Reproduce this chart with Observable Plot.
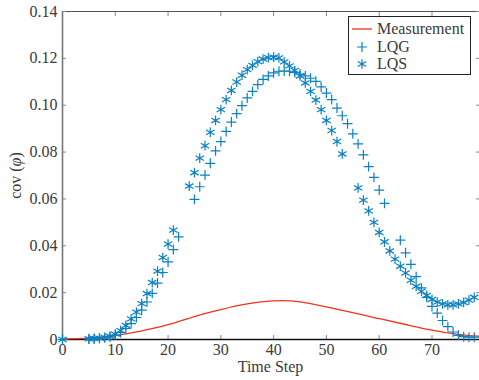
<!DOCTYPE html>
<html><head><meta charset="utf-8">
<script src="https://cdn.jsdelivr.net/npm/d3@7"></script>
<script src="https://cdn.jsdelivr.net/npm/@observablehq/plot@0.6"></script>
<style>
body{margin:0;background:#fff}
svg, svg text, svg tspan { font-family: "Liberation Serif", serif !important; }
</style>
</head><body><div id="chart"></div>
<script>
const measX = [0, 5, 10, 15, 20, 25, 30, 35, 40, 45, 50, 55, 60, 65, 70, 75, 79];
const measY = [0.0003, 0.0006, 0.0017, 0.0037, 0.0063, 0.0098, 0.0128, 0.0152, 0.0165, 0.0161, 0.0139, 0.0115, 0.0089, 0.0064, 0.0040, 0.0022, 0.0014];
const lqgX = [0,5,6,7,8,9,10,11,12,13,14,15,16,17,18,19,20,21,22,
  25,26,27,28,29,30,31,32,33,34,35,36,37,38,39,40,41,42,43,44,45,46,47,48,49,50,51,52,53,54,55,56,57,58,59,60,61,
  64,65,66,67,68,69,70,71,72,73,74,75,76,77,78];
const lqgY = [0,0.0002,0.0003,0.0004,0.0007,0.0011,0.0018,0.003,0.0047,0.0068,0.0094,0.0125,0.016,0.0197,0.0241,0.0286,0.0331,0.0384,0.0438,
  0.0598,0.0652,0.0702,0.0752,0.0805,0.0845,0.0888,0.0928,0.0964,0.0998,0.1031,0.1059,0.1088,0.111,0.1125,0.1138,0.1145,0.1146,0.1145,0.114,0.1133,0.1125,0.1115,0.1102,0.1078,0.1052,0.1024,0.0988,0.0955,0.0921,0.0878,0.0835,0.0788,0.0738,0.0692,0.0638,0.0581,
  0.0424,0.037,0.0321,0.0268,0.022,0.018,0.0141,0.0113,0.0081,0.0055,0.0032,0.0018,0.0012,0.001,0.001];
const lqsX = [0,5,6,7,8,9,10,11,12,13,14,15,16,17,18,19,20,21,
  24,25,26,27,28,29,30,31,32,33,34,35,36,37,38,39,40,41,42,43,44,45,46,47,48,49,50,51,52,53,
  56,57,58,59,60,61,62,63,64,65,66,67,68,69,70,71,72,73,74,75,76,77,78];
const lqsY = [0,0.0003,0.0004,0.0006,0.0009,0.0014,0.0023,0.0038,0.006,0.0088,0.0117,0.0153,0.0196,0.0243,0.0292,0.035,0.0407,0.0467,
  0.0655,0.0712,0.0774,0.0827,0.0884,0.0935,0.0981,0.1024,0.1063,0.1099,0.1128,0.1152,0.117,0.1186,0.1197,0.1203,0.1205,0.1202,0.1185,0.1168,0.1148,0.1125,0.1095,0.1059,0.1022,0.0981,0.0935,0.0892,0.0845,0.0792,
  0.0647,0.0595,0.0549,0.05,0.0457,0.0417,0.0378,0.0343,0.0313,0.0284,0.0253,0.0227,0.0206,0.0188,0.0171,0.016,0.0152,0.0148,0.0148,0.0152,0.0158,0.0168,0.018];
const xTicks = [0, 10, 20, 30, 40, 50, 60, 70];
const yTicks = [0, 0.02, 0.04, 0.06, 0.08, 0.10, 0.12, 0.14];
const seriesNames = ["Measurement", "LQG", "LQS"];

const blue = "#0b80c3", red = "#f2331c";
const meas = measX.map((x, i) => ({x, y: measY[i]}));
const lqg = lqgX.map((x, i) => ({x, y: lqgY[i]}));
const lqs = lqsX.map((x, i) => ({x, y: lqsY[i]}));
const fs = 16;

const plot = Plot.plot({
  width: 479, height: 380,
  marginLeft: 62, marginRight: 0, marginTop: 11, marginBottom: 41,
  style: {fontSize: fs + "px", color: "#3a3a3a", background: "white", overflow: "visible"},
  x: {domain: [0, 79]},
  y: {domain: [0, 0.14]},
  marks: [
    Plot.frame({stroke: "#555", strokeWidth: 1}),
    Plot.axisX({ticks: xTicks, tickSize: -4, tickPadding: 8, label: null, stroke: "#888"}),
    Plot.axisX({anchor: "top", ticks: xTicks, tickSize: -4, tickFormat: () => "", label: null, stroke: "#888"}),
    Plot.axisY({ticks: yTicks, tickSize: -4, tickPadding: 9, label: null, stroke: "#888",
      tickFormat: d => d === 0 ? "0" : d.toFixed(2)}),
    Plot.axisY({anchor: "right", ticks: yTicks, tickSize: -4, tickFormat: () => "", label: null, stroke: "#888"}),
    Plot.ruleX([0], {stroke: "#777", strokeWidth: 1.6}),
    Plot.ruleY([0], {stroke: "#111", strokeWidth: 1.4}),
    Plot.line(meas, {x: "x", y: "y", stroke: red, strokeWidth: 1.3, curve: "natural"}),
    Plot.dot(lqg, {x: "x", y: "y", symbol: "plus", r: 3.3, stroke: blue, fill: "none", strokeWidth: 1.2}),
    Plot.dot(lqs, {x: "x", y: "y", symbol: "asterisk", r: 4.6, stroke: blue, fill: "none", strokeWidth: 1.2})
  ]
});

const svg = d3.select(plot);
svg.append("text")
  .attr("x", 270.5).attr("y", 372)
  .attr("text-anchor", "middle").attr("fill", "#3a3a3a")
  .attr("font-size", fs)
  .text("Time Step");
const yl = svg.append("text")
  .attr("transform", "translate(21,175.5) rotate(-90)")
  .attr("text-anchor", "middle").attr("fill", "#3a3a3a")
  .attr("font-size", fs);
yl.append("tspan").text("cov (");
yl.append("tspan").attr("font-style", "italic").text("φ");
yl.append("tspan").text(")");

const lg = svg.append("g").attr("font-size", fs).attr("text-anchor", "start");
lg.append("rect").attr("x", 348.5).attr("y", 16.5).attr("width", 122).attr("height", 58)
  .attr("fill", "white").attr("stroke", "#222").attr("stroke-width", 1);
lg.append("line").attr("x1", 352).attr("x2", 372).attr("y1", 29).attr("y2", 29)
  .attr("stroke", red).attr("stroke-width", 1.3);
lg.append("path").attr("transform", "translate(362,47)")
  .attr("d", d3.symbol(d3.symbolPlus, Math.PI * 3.3 * 3.3)())
  .attr("stroke", blue).attr("fill", "none").attr("stroke-width", 1.2);
lg.append("path").attr("transform", "translate(362,64)")
  .attr("d", d3.symbol(d3.symbolAsterisk, Math.PI * 4.6 * 4.6)())
  .attr("stroke", blue).attr("fill", "none").attr("stroke-width", 1.2);
[29, 47, 64].forEach((y, i) => {
  lg.append("text").attr("x", 377).attr("y", y + 5).attr("fill", "#3a3a3a")
    .attr("text-anchor", "start").text(seriesNames[i]);
});

document.getElementById("chart").appendChild(plot);
</script>
</body></html>
